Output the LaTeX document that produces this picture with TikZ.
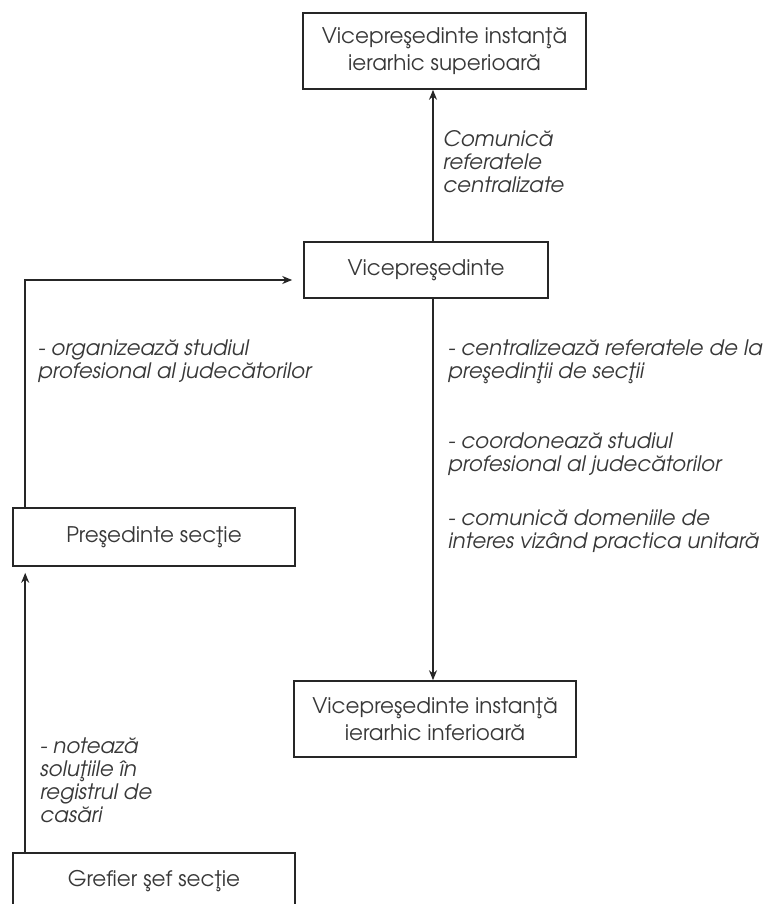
\documentclass[tikz,border=0pt]{standalone}
\usepackage{fontspec}
\setmainfont{TeX Gyre Adventor}
\usetikzlibrary{arrows.meta}

\definecolor{ink}{HTML}{262626}
\definecolor{txt}{HTML}{383838}

\begin{document}
\begin{tikzpicture}[x=1pt,y=-1pt,
  box/.style={draw=ink, line width=1.6pt, rectangle, inner sep=0pt,
    align=center, text=txt, font=\fontsize{21.5}{27.5}\selectfont},
  note/.style={anchor=north west, inner sep=0pt, align=left, text=txt,
    font=\itshape\fontsize{21.3}{23}\selectfont},
  link/.style={draw=ink, line width=1.6pt, -{Stealth[length=10pt,width=8pt]}},
]
\useasboundingbox (0,0) rectangle (766,904);
\clip (0,0) rectangle (766,904);

% boxes
\node[box, minimum width=283pt, minimum height=76pt] (sup) at (444.5,51)
  {Vicepreşedinte instanţă\\ierarhic superioară};
\node[box, minimum width=244pt, minimum height=56pt] (vice) at (426,270)
  {Vicepreşedinte};
\node[box, minimum width=282pt, minimum height=76pt] (inf) at (435,719)
  {Vicepreşedinte instanţă\\ierarhic inferioară};
\node[box, minimum width=282pt, minimum height=58pt] (pres) at (154,537)
  {Preşedinte secţie};
\node[box, minimum width=282pt, minimum height=58pt, text depth=8pt] (gref) at (154,882)
  {Grefier şef secţie};

% connectors
\draw[link] ([xshift=7pt]vice.north) -- ([xshift=7pt]vice.north |- sup.south);
\draw[link] ([xshift=7pt]vice.south) -- ([xshift=7pt]vice.south |- inf.north);
\draw[link, shorten >=11pt] ([xshift=13pt]pres.north west) |- ([yshift=-10pt]vice.west);
\draw[link, shorten >=6pt] ([xshift=13pt]gref.north west) -- ([xshift=13pt]pres.south west);

% labels
\node[note] (l1) at (443,130) {Comunică\\referatele\\centralizate};
\node[note] (l2) at (38,340) {- organizează studiul\\profesional al judecătorilor};
\node[note] (l3) at (448,340) {- centralizează referatele de la\\preşedinţii de secţii};
\node[note] (l4) at (448,433) {- coordonează studiul\\profesional al judecătorilor};
\node[note] (l5) at (448,510) {- comunică domeniile de\\interes vizând practica unitară};
\node[note] (l6) at (40,738) {- notează\\soluţiile în\\registrul de\\casări};
\end{tikzpicture}
\end{document}
